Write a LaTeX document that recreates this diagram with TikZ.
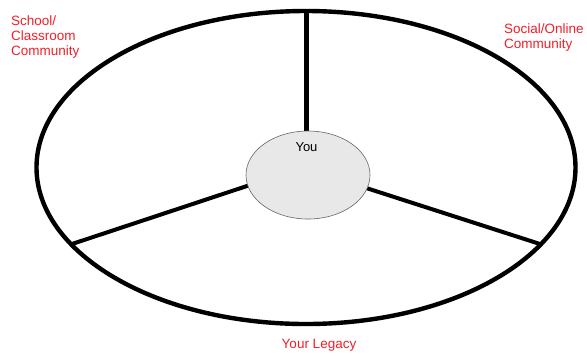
\documentclass[tikz,border=0pt]{standalone}
\usepackage{fontspec}
\setmainfont{Liberation Sans}
\usetikzlibrary{shapes.geometric}
\definecolor{lbl}{HTML}{F0202A}
\definecolor{youfill}{HTML}{E8E8E8}
\begin{document}
\begin{tikzpicture}[x=1pt,y=-1pt,
  rim/.style={line width=4.4pt,draw=black},
  spoke/.style={line width=4pt,draw=black},
  lbltext/.style={text=lbl,font=\fontsize{13.5}{15}\selectfont,inner sep=0pt,align=left},
  centre/.style={ellipse,draw=gray!80!black,line width=0.6pt,fill=youfill,minimum width=124pt,minimum height=88pt,inner sep=0pt}]
\useasboundingbox (0,0) rectangle (587,360);
\fill[white] (0,0) rectangle (587,360);
\draw[rim] (306,167.5) ellipse [x radius=269.5, y radius=156.5];
\coordinate (top) at (306,12);
\coordinate (left) at (72,244);
\coordinate (right) at (540,244);
\coordinate (ctop) at (306,150);
\coordinate (cleft) at (256,183);
\coordinate (cright) at (360,186);
\draw[spoke,line width=5pt] (top) -- (ctop);
\draw[spoke] (left) -- (cleft);
\draw[spoke] (right) -- (cright);
\node[centre] (you) at (308,175) {};
\node[font=\fontsize{13}{15}\selectfont,anchor=base,inner sep=0pt] (youlbl) at (306.5,151) {You};
\node[lbltext,anchor=base west] (school) at (11,25) {School/};
\node[lbltext,anchor=base west] (school2) at (11,40) {Classroom};
\node[lbltext,anchor=base west] (school3) at (11,55) {Community};
\node[lbltext,anchor=base west] (social) at (504,33) {Social/Online};
\node[lbltext,anchor=base west] (social2) at (504,48) {Community};
\node[lbltext,anchor=base] (legacy) at (319,348) {Your Legacy};
\end{tikzpicture}
\end{document}
